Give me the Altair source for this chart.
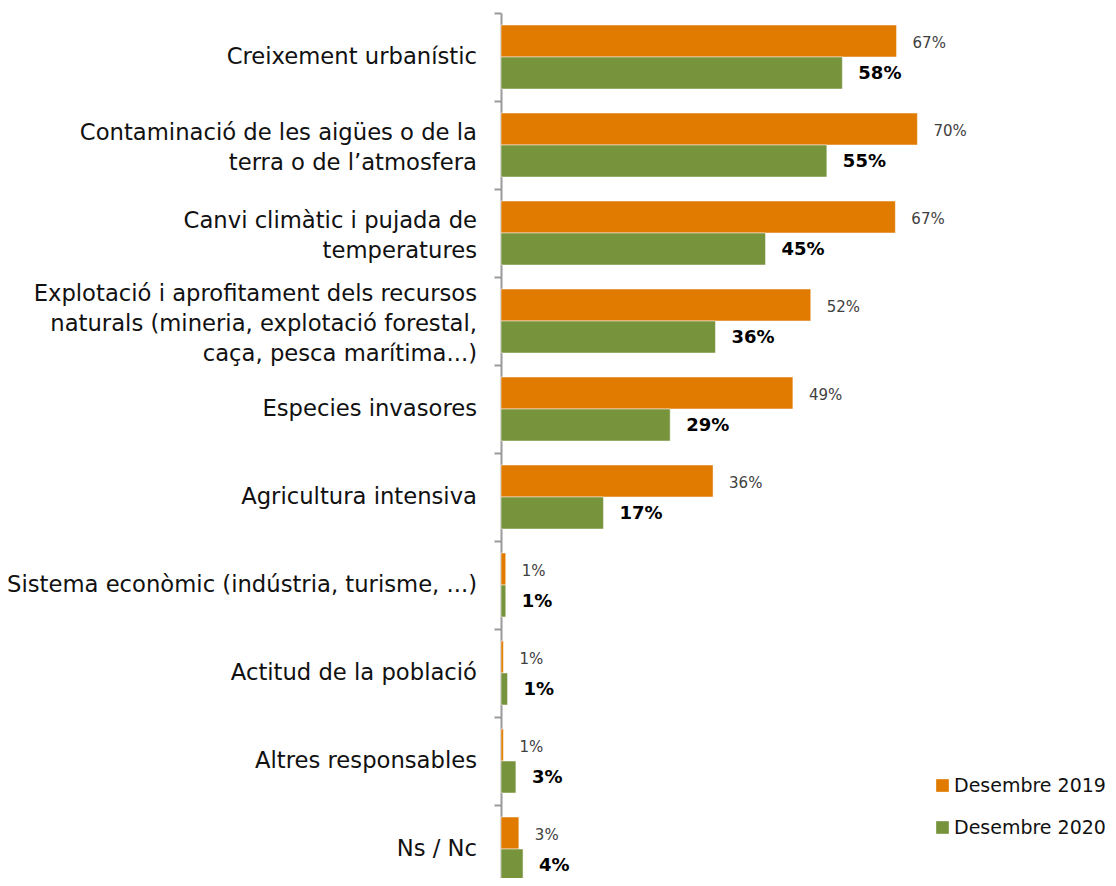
import altair as alt
import pandas as pd

categories = [
    "Creixement urbanístic",
    "Contaminació de les aigües o de la|terra o de l’atmosfera",
    "Canvi climàtic i pujada de|temperatures",
    "Explotació i aprofitament dels recursos|naturals (mineria, explotació forestal,|caça, pesca marítima...)",
    "Especies invasores",
    "Agricultura intensiva",
    "Sistema econòmic (indústria, turisme, ...)",
    "Actitud de la població",
    "Altres responsables",
    "Ns / Nc",
]
series = ["Desembre 2019", "Desembre 2020"]
values_2019 = [66.4, 69.9, 66.2, 52.0, 49.0, 35.6, 0.8, 0.4, 0.4, 3.0]
values_2020 = [57.3, 54.7, 44.4, 36.0, 28.4, 17.2, 0.8, 1.1, 2.5, 3.7]
labels_2019 = ["67%", "70%", "67%", "52%", "49%", "36%", "1%", "1%", "1%", "3%"]
labels_2020 = ["58%", "55%", "45%", "36%", "29%", "17%", "1%", "1%", "3%", "4%"]
colors = ["#E07B00", "#77933C"]

rows = []
for c, v, l in zip(categories, values_2019, labels_2019):
    rows.append({"cat": c, "series": series[0], "value": v, "label": l})
for c, v, l in zip(categories, values_2020, labels_2020):
    rows.append({"cat": c, "series": series[1], "value": v, "label": l})
df = pd.DataFrame(rows)
cat_df = pd.DataFrame({"cat": categories, "nlines": [len(c.split("|")) for c in categories]})

FONT = "DejaVu Sans"

y_enc = alt.Y(
    "cat:N",
    sort=categories,
    scale=alt.Scale(paddingInner=0, paddingOuter=0),
    axis=alt.Axis(
        title=None,
        labels=False,
        tickSize=7,
        tickBand="extent",
        tickColor="#9a9a9a",
        tickWidth=2,
        domainColor="#9a9a9a",
        domainWidth=2,
    ),
)
yoff_enc = alt.YOffset(
    "series:N", sort=series, scale=alt.Scale(paddingInner=0, paddingOuter=0.375)
)
x_enc = alt.X("value:Q", scale=alt.Scale(domain=[0, 70], nice=False), axis=None)

base = alt.Chart(df)

bars = base.mark_bar(stroke="white", strokeWidth=0.5).encode(
    x=x_enc,
    y=y_enc,
    yOffset=yoff_enc,
    color=alt.Color(
        "series:N",
        sort=series,
        scale=alt.Scale(domain=series, range=colors),
        legend=alt.Legend(
            title=None,
            orient="none",
            legendX=432,
            legendY=763,
            symbolType="square",
            symbolSize=160,
            symbolStrokeWidth=0,
            labelFont=FONT,
            labelFontSize=19,
            labelColor="#111111",
            rowPadding=22,
            labelOffset=2,
        ),
    ),
)

text19 = base.transform_filter(alt.datum.series == series[0]).mark_text(
    align="left", baseline="middle", dx=16, dy=2, font=FONT, fontSize=15, color="#404040"
).encode(x=x_enc, y=y_enc, yOffset=yoff_enc, text="label:N")

text20 = base.transform_filter(alt.datum.series == series[1]).mark_text(
    align="left", baseline="middle", dx=16, dy=1, font=FONT, fontSize=18,
    fontWeight="bold", color="#000000"
).encode(x=x_enc, y=y_enc, yOffset=yoff_enc, text="label:N")

# category labels (multi-line, centred on their band)
cat_layers = []
for n in (1, 2, 3):
    shift = 0 if n == 1 else -15 * (n - 1) + 3
    cat_layers.append(
        alt.Chart(cat_df)
        .transform_filter(alt.datum.nlines == n)
        .mark_text(
            align="right", baseline="middle", lineBreak="|", lineHeight=30,
            dy=shift, font=FONT, fontSize=22.7, color="#111111",
        )
        .encode(x=alt.value(-24), y=y_enc, text="cat:N")
    )

chart = (
    alt.layer(bars, text19, text20, *cat_layers)
    .properties(
        width=417,
        height=880,
        autosize=alt.AutoSizeParams(type="none"),
        padding={"left": 493, "top": 5, "right": 190, "bottom": -15},
    )
    .configure_view(stroke=None)
)

chart.save("out.html", embed_options={"renderer": "svg", "actions": False})
